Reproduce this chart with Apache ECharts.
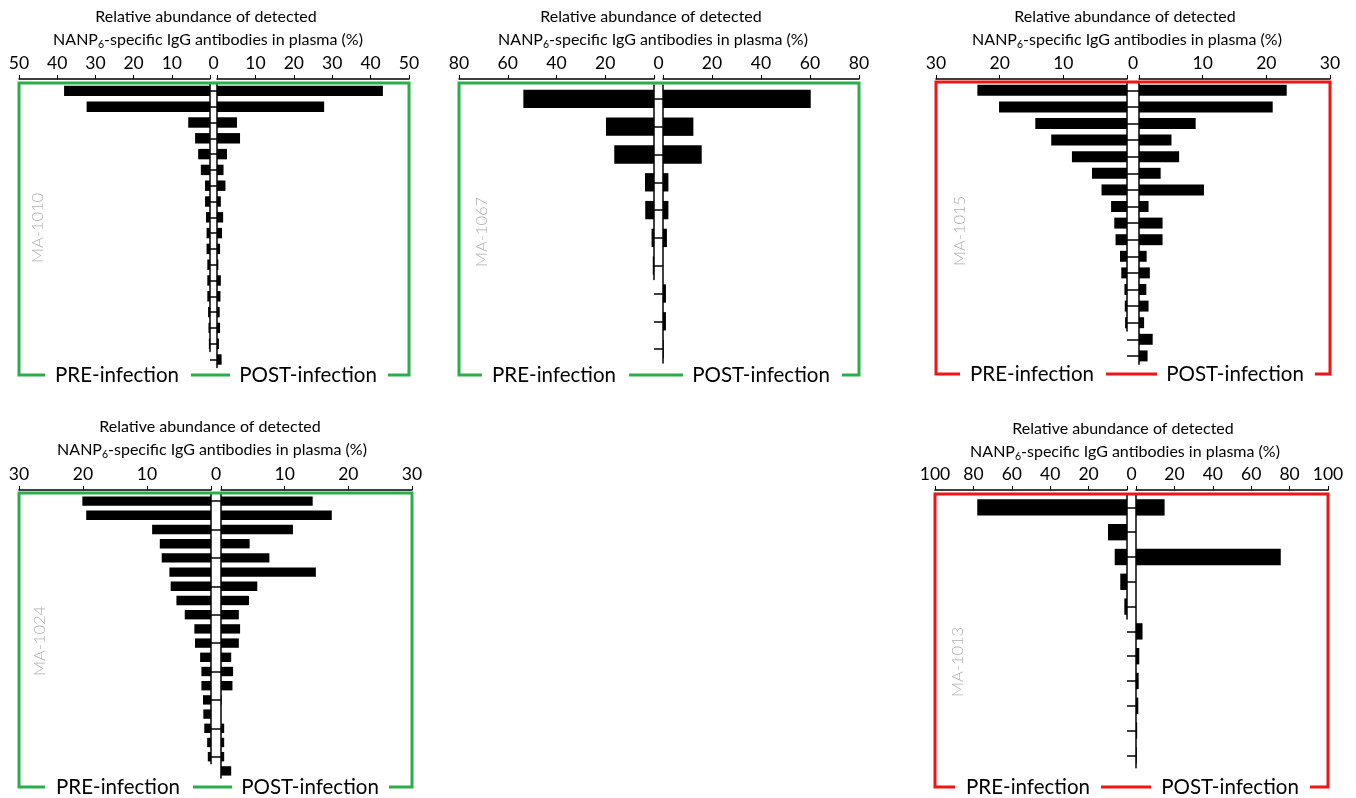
<!DOCTYPE html>
<html>
<head>
    <meta charset="utf-8">
    <script src="https://cdn.jsdelivr.net/npm/echarts@6/dist/echarts.min.js"></script>
</head>
<body style="margin:0;background-color:#fff">
    <div id="main" style="width:1356px;height:798px;"></div>
    <script type="text/javascript">

        // relative abundance (%) of each clonotype row, pre / post infection
        var ma1010Pre  = [38.2, 32.3, 5.7, 3.9, 3.1, 2.4, 1.3, 1.3, 1.05, 0.9, 0.9, 0.7, 0.7, 0.7, 0.5, 0.4, 0.3];
        var ma1010Post = [43.2, 27.9, 5.2, 6.0, 2.6, 1.7, 2.2, 1.0, 1.6, 1.3, 0.8, 0.35, 1.0, 0.9, 0.7, 0.8, 0.5, 1.2];
        var ma1067Pre  = [53.6, 19.7, 16.3, 3.7, 3.6, 1.0, 0.5];
        var ma1067Post = [60.3, 12.4, 15.8, 2.2, 2.2, 1.6, 0, 1.2, 1.2, 0.3];
        var ma1015Pre  = [23.5, 20.1, 14.4, 11.9, 8.65, 5.5, 4.0, 2.5, 2.0, 1.8, 1.1, 0.9, 0.4, 0.35, 0.3];
        var ma1015Post = [23.2, 21.0, 8.9, 5.1, 6.3, 3.4, 10.2, 1.5, 3.7, 3.7, 1.2, 1.7, 1.15, 1.5, 0.8, 2.15, 1.35];
        var ma1024Pre  = [20.1, 19.5, 9.2, 8.0, 7.7, 6.5, 6.3, 5.4, 4.1, 2.6, 2.5, 1.7, 1.5, 1.5, 1.25, 1.2, 1.05, 0.6, 0.5];
        var ma1024Post = [14.4, 17.4, 11.3, 4.5, 7.6, 14.9, 5.7, 4.4, 2.8, 3.0, 2.8, 1.6, 1.9, 1.8, 0.1, 0, 0.5, 0.5, 0.5, 1.6];
        var ma1013Pre  = [78.0, 9.9, 6.4, 3.5, 1.4];
        var ma1013Post = [14.9, 0, 75.4, 0, 0, 3.4, 1.7, 1.4, 1.2, 0.6, 0.4];

        var panelNames = ['MA-1010', 'MA-1067', 'MA-1015', 'MA-1024', 'MA-1013'];
        var axisMax  = [50, 80, 30, 30, 100];
        var axisStep = [10, 20, 10, 10, 20];
        var sideLabels = ['PRE-infection', 'POST-infection'];
        var titleLine1 = 'Relative abundance of detected';
        var titleLine2 = '{a|NANP}{s|6}{a|-specific IgG antibodies in plasma (%)}';

        var GREEN = '#2aae4a', RED = '#f01414';
        var FONT = 'Lato, "Open Sans", sans-serif';

        // pixel layout of each panel
        var layout = [
            {pre: ma1010Pre, post: ma1010Post, lx0: 19, lx1: 210, rx0: 217, rx1: 409, top: 83, step: 15.8, axisY: 79, bTop: 83, bottom: 375,
             tx: 208, ty: 17, preX: 117, postX: 308, segL: 45, mid: [191, 230], segR: 388, nx: 38, ny: 228, color: GREEN},
            {pre: ma1067Pre, post: ma1067Post, lx0: 459, lx1: 654, rx0: 663, rx1: 859, top: 85, step: 27.8, axisY: 79, bTop: 83, bottom: 375,
             tx: 653, ty: 17, preX: 554, postX: 761, segL: 482, mid: [629, 683], segR: 842, nx: 482, ny: 232, color: GREEN},
            {pre: ma1015Pre, post: ma1015Post, lx0: 936, lx1: 1127, rx0: 1139, rx1: 1330, top: 82, step: 16.6, axisY: 79, bTop: 82, bottom: 374,
             tx: 1127, ty: 17, preX: 1032, postX: 1235, segL: 960, mid: [1106, 1157], segR: 1315, nx: 960, ny: 231, color: RED},
            {pre: ma1024Pre, post: ma1024Post, lx0: 19, lx1: 211, rx0: 221, rx1: 412, top: 494, step: 14.2, axisY: 490, bTop: 493, bottom: 787,
             tx: 212, ty: 427, preX: 118, postX: 310, segL: 45, mid: [193, 232], segR: 389, nx: 40, ny: 641, color: GREEN},
            {pre: ma1013Pre, post: ma1013Post, lx0: 935, lx1: 1127, rx0: 1136, rx1: 1328, top: 495, step: 24.8, axisY: 490, bTop: 494, bottom: 787,
             tx: 1125, ty: 429, preX: 1028, postX: 1230, segL: 955, mid: [1101, 1151], segR: 1310, nx: 958, ny: 662, color: RED}
        ];

        var myChart = echarts.init(document.getElementById('main'));
        var grids = [], xAxes = [], yAxes = [], series = [], graphics = [];

        function rows(arr) {
            return arr.map(function (v, k) { return 'R' + (k + 1); });
        }

        layout.forEach(function (p, i) {
            var gap = p.rx0 - p.lx1;
            var off = p.top - p.axisY;
            var gl = i * 2, gr = i * 2 + 1;

            grids.push({left: p.lx0, width: p.lx1 - p.lx0, top: p.top, height: p.pre.length * p.step, outerBoundsMode: 'none'});
            grids.push({left: p.rx0, width: p.rx1 - p.rx0, top: p.top, height: p.post.length * p.step, outerBoundsMode: 'none'});

            var xBase = {
                type: 'value', position: 'top', min: 0, max: axisMax[i], interval: axisStep[i], offset: off,
                axisLine: {show: true, lineStyle: {color: '#000', width: 1.5}},
                axisTick: {show: true, length: 4, lineStyle: {color: '#000', width: 1}},
                splitLine: {show: false}
            };
            xAxes.push(Object.assign({}, xBase, {
                gridIndex: gl, inverse: true,
                axisLabel: {fontSize: 17.5, color: '#000', fontFamily: FONT, margin: 7,
                    formatter: function (v) { return v === 0 ? '{z|0}' : v; },
                    rich: {z: {fontSize: 17.5, color: '#000', fontFamily: FONT, padding: [0, 0, 0, gap]}}}
            }));
            xAxes.push(Object.assign({}, xBase, {
                gridIndex: gr,
                axisLabel: {fontSize: 17.5, color: '#000', fontFamily: FONT, margin: 7,
                    formatter: function (v) { return v === 0 ? '' : v; }}
            }));

            var yBase = {
                type: 'category', inverse: true,
                axisLine: {show: true, lineStyle: {color: '#000', width: 1.5}},
                axisTick: {show: true, alignWithLabel: true, length: gap, lineStyle: {color: '#000', width: 1.5}},
                axisLabel: {show: false},
                splitLine: {show: false}
            };
            yAxes.push(Object.assign({}, yBase, {gridIndex: gl, position: 'right', data: rows(p.pre)}));
            yAxes.push(Object.assign({}, yBase, {gridIndex: gr, position: 'left', data: rows(p.post)}));

            series.push({type: 'bar', xAxisIndex: gl, yAxisIndex: gl, data: p.pre, barCategoryGap: '34%',
                itemStyle: {color: '#000'}, silent: true});
            series.push({type: 'bar', xAxisIndex: gr, yAxisIndex: gr, data: p.post, barCategoryGap: '34%',
                itemStyle: {color: '#000'}, silent: true});

            // bracket around the panel
            var line = {stroke: p.color, lineWidth: 3, fill: null};
            graphics.push({type: 'polyline', silent: true, z: 50, shape: {points: [
                [p.segL, p.bottom], [p.lx0, p.bottom], [p.lx0, p.bTop], [p.rx1, p.bTop], [p.rx1, p.bottom], [p.segR, p.bottom]
            ]}, style: line});
            graphics.push({type: 'line', silent: true, z: 50, shape: {x1: p.mid[0], y1: p.bottom, x2: p.mid[1], y2: p.bottom}, style: line});

            graphics.push({type: 'text', silent: true, x: p.preX, y: p.bottom, style: {text: sideLabels[0],
                fontSize: 20.5, fontFamily: FONT, fill: '#000', align: 'center', verticalAlign: 'middle'}});
            graphics.push({type: 'text', silent: true, x: p.postX, y: p.bottom, style: {text: sideLabels[1],
                fontSize: 20.5, fontFamily: FONT, fill: '#000', align: 'center', verticalAlign: 'middle'}});

            // titles
            graphics.push({type: 'text', silent: true, x: p.tx - 2, y: p.ty, style: {text: titleLine1,
                fontSize: 16, fontFamily: FONT, fill: '#000', align: 'center', verticalAlign: 'middle'}});
            graphics.push({type: 'text', silent: true, x: p.tx, y: p.ty + 23, style: {text: titleLine2,
                align: 'center', verticalAlign: 'middle',
                rich: {
                    a: {fontSize: 16, fontFamily: FONT, fill: '#000', lineHeight: 20},
                    s: {fontSize: 10.5, fontFamily: FONT, fill: '#000', lineHeight: 20, padding: [9, 0, 0, 0]}
                }}});

            // donor id
            graphics.push({type: 'text', silent: true, x: p.nx, y: p.ny, rotation: Math.PI / 2, style: {text: panelNames[i],
                fontSize: 16.5, fontFamily: FONT, fontWeight: 300, fill: '#b0b0b0', align: 'center', verticalAlign: 'middle'}});
        });

        option = {
            backgroundColor: '#fff',
            animation: false,
            grid: grids,
            xAxis: xAxes,
            yAxis: yAxes,
            series: series,
            graphic: graphics
        };
        myChart.setOption(option);
    </script>
</body>
</html>
